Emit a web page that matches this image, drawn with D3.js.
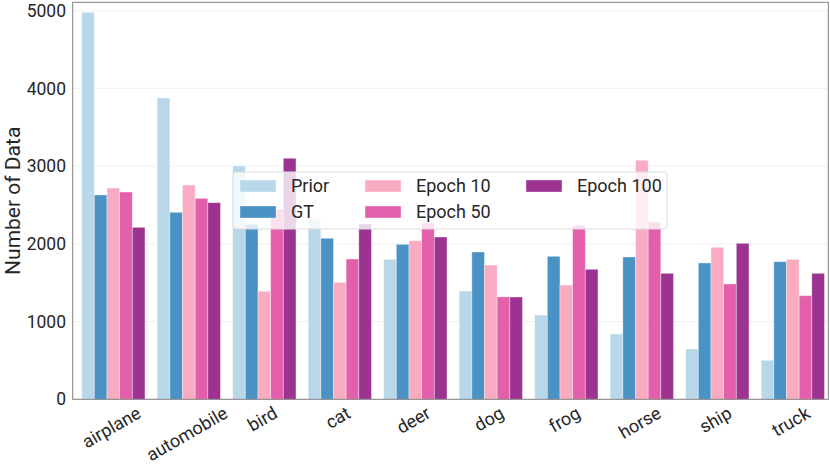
<!DOCTYPE html>
<html lang="en">
  <head>
    <meta charset="UTF-8" />
    <title>Number of Data per class</title>
    <script src="https://d3js.org/d3.v7.min.js"></script>
    <style>
      body { margin: 0; background: #fff; }
      svg { font-family: Roboto, 'Noto Sans', sans-serif; }
    </style>
  </head>
  <body>
    <svg width="830" height="467"></svg>
    <script>
      // class names and per-series counts
      const categories = ['airplane', 'automobile', 'bird', 'cat', 'deer', 'dog', 'frog', 'horse', 'ship', 'truck'];
      const seriesNames = ['Prior', 'GT', 'Epoch 10', 'Epoch 50', 'Epoch 100'];
      const prior = [4980, 3877, 3002, 2316, 1801, 1393, 1085, 840, 647, 502];
      const gt = [2629, 2406, 2252, 2072, 1994, 1895, 1840, 1831, 1754, 1771];
      const epoch10 = [2718, 2757, 1390, 1505, 2041, 1728, 1471, 3075, 1956, 1801];
      const epoch50 = [2667, 2586, 2445, 1805, 2268, 1318, 2239, 2281, 1484, 1333];
      const epoch100 = [2213, 2530, 3101, 2256, 2088, 1316, 1673, 1621, 2007, 1621];
      const yTicks = [0, 1000, 2000, 3000, 4000, 5000];
      const colors = ['#b8d8ea', '#4a92c4', '#f9acc1', '#e45fab', '#9d3391'];

      const series = [prior, gt, epoch10, epoch50, epoch100];

      const svg = d3.select('svg');
      const pLeft = 72.7, pRight = 828.3, pTop = 2.3, pBottom = 399.3;
      const barW = 0.1677;

      const x = d3.scaleLinear().domain([-0.538, 9.47]).range([pLeft, pRight]);
      const y = d3.scaleLinear().domain([0, 5108]).range([pBottom, pTop]);

      // grid
      svg.append('g')
        .selectAll('line')
        .data(yTicks)
        .join('line')
        .attr('x1', pLeft)
        .attr('x2', pRight)
        .attr('y1', (d) => y(d))
        .attr('y2', (d) => y(d))
        .attr('stroke', '#e3e3e3')
        .attr('stroke-width', 0.8)
        .attr('stroke-dasharray', '2.5,1.5');

      // bars
      const bars = svg.append('g');
      series.forEach((vals, k) => {
        bars.append('g')
          .selectAll('rect')
          .data(vals)
          .join('rect')
          .attr('x', (d, i) => x(i + (k - 2.5) * barW))
          .attr('width', x(barW) - x(0))
          .attr('y', (d) => y(d))
          .attr('height', (d) => y(0) - y(d))
          .attr('fill', colors[k])
          .attr('stroke', '#fff')
          .attr('stroke-opacity', 0.45)
          .attr('stroke-width', 0.8);
      });

      // frame
      svg.append('rect')
        .attr('x', pLeft)
        .attr('y', pTop)
        .attr('width', pRight - pLeft)
        .attr('height', pBottom - pTop)
        .attr('fill', 'none')
        .attr('stroke', '#808080')
        .attr('stroke-width', 1);

      // y tick labels
      svg.append('g')
        .selectAll('text')
        .data(yTicks)
        .join('text')
        .attr('x', 66)
        .attr('y', (d) => y(d))
        .attr('dy', '0.35em')
        .attr('text-anchor', 'end')
        .attr('font-size', 17.5)
        .attr('fill', '#262626')
        .text((d) => d);

      // x tick labels, rotated 30 degrees and centred under each group
      svg.append('g')
        .selectAll('text')
        .data(categories)
        .join('text')
        .attr('text-anchor', 'middle')
        .attr('dominant-baseline', 'central')
        .attr('font-size', 18)
        .attr('fill', '#262626')
        .text((d) => d)
        .attr('transform', function (d, i) {
          const len = this.getComputedTextLength();
          const h = len * 0.5 + 14 * 0.866;
          return `translate(${x(i) - 2},${405 + h / 2}) rotate(-30)`;
        });

      // y label
      svg.append('text')
        .attr('transform', `translate(20,${(pTop + pBottom) / 2}) rotate(-90)`)
        .attr('text-anchor', 'middle')
        .attr('font-size', 21)
        .attr('fill', '#262626')
        .text('Number of Data');

      // legend
      const legend = svg.append('g');
      legend.append('rect')
        .attr('x', 233)
        .attr('y', 172)
        .attr('width', 434)
        .attr('height', 57)
        .attr('rx', 3)
        .attr('fill', '#fff')
        .attr('fill-opacity', 0.8)
        .attr('stroke', '#dcdcdc')
        .attr('stroke-width', 1);

      const colX = [240, 365, 526];
      const rowY = [186, 212];
      seriesNames.forEach((name, k) => {
        const col = Math.floor(k / 2), row = k % 2;
        legend.append('rect')
          .attr('x', colX[col])
          .attr('y', rowY[row] - 6)
          .attr('width', 36)
          .attr('height', 12)
          .attr('fill', colors[k])
          .attr('stroke', '#fff')
          .attr('stroke-opacity', 0.45)
          .attr('stroke-width', 0.8);
        legend.append('text')
          .attr('x', colX[col] + 51)
          .attr('y', rowY[row])
          .attr('dy', '0.35em')
          .attr('font-size', 18)
          .attr('fill', '#262626')
          .text(name);
      });
    </script>
  </body>
</html>
